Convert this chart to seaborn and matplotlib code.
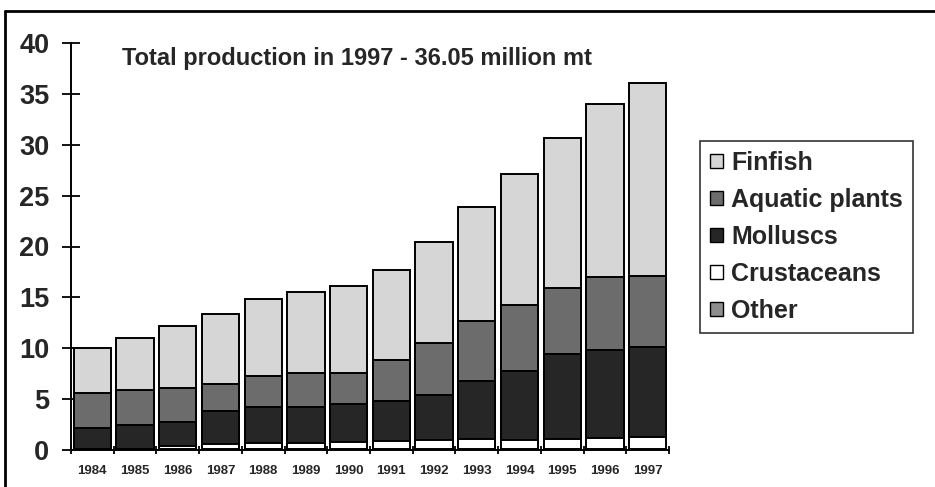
import numpy as np
import pandas as pd
import matplotlib
matplotlib.use("Agg")
import matplotlib.pyplot as plt
from matplotlib.patches import Patch
from matplotlib.lines import Line2D
import seaborn as sns

years = ["1984", "1985", "1986", "1987", "1988", "1989", "1990",
         "1991", "1992", "1993", "1994", "1995", "1996", "1997"]
other = [0.05, 0.05, 0.05, 0.05, 0.05, 0.05, 0.05, 0.05, 0.05, 0.05, 0.05, 0.05, 0.05, 0.05]
crustaceans = [0.05, 0.05, 0.35, 0.5, 0.65, 0.65, 0.75, 0.85, 0.9, 1.0, 0.9, 1.05, 1.15, 1.25]
molluscs = [2.1, 2.4, 2.4, 3.25, 3.55, 3.55, 3.7, 3.9, 4.45, 5.75, 6.8, 8.3, 8.65, 8.8]
aquatic_plants = [3.45, 3.4, 3.3, 2.7, 3.0, 3.3, 3.05, 4.05, 5.15, 5.9, 6.5, 6.5, 7.15, 7.0]
finfish = [4.4, 5.15, 6.05, 6.85, 7.55, 8.0, 8.6, 8.85, 9.9, 11.2, 12.9, 14.75, 17.0, 18.95]

series_names = ["Other", "Crustaceans", "Molluscs", "Aquatic plants", "Finfish"]
series_values = [other, crustaceans, molluscs, aquatic_plants, finfish]
colors = {"Other": "#8e8e8e", "Crustaceans": "#ffffff", "Molluscs": "#262626",
          "Aquatic plants": "#6c6c6c", "Finfish": "#d6d6d6"}

title = "Total production in 1997 - 36.05 million mt"
yticks = [0, 5, 10, 15, 20, 25, 30, 35, 40]

sns.set_style("white")
plt.rcParams['font.family'] = ['Liberation Sans', 'DejaVu Sans']
plt.rcParams['font.weight'] = 'bold'

fig = plt.figure(figsize=(9.35, 4.87), dpi=100)
ax = fig.add_axes([71/935, 1-450/487, (669-71)/935, (450-43)/487])

cum = np.cumsum(np.array(series_values), axis=0)
df = pd.DataFrame({"year": years})
# draw from top-most cumulative downward
for i in range(len(series_names) - 1, -1, -1):
    name = series_names[i]
    df["val"] = cum[i]
    sns.barplot(data=df, x="year", y="val", color=colors[name], saturation=1,
                edgecolor="black", linewidth=1.4, width=0.87, errorbar=None, ax=ax)

ax.set_ylim(0, 40)
ax.set_xlim(-0.5, 13.5)
ax.set_yticks(yticks)
ax.set_yticklabels([str(v) for v in yticks], fontsize=19.5, fontweight='bold')
ax.set_xticks(range(len(years)))
ax.set_xticklabels(years, fontsize=9.5, fontweight='bold')
ax.set_xticks(np.arange(-0.5, 14, 1), minor=True)
ax.tick_params(axis='x', which='major', bottom=False, length=0, pad=11)
ax.tick_params(axis='x', which='minor', bottom=True, direction='inout', length=6, width=1.3, color='black')
ax.tick_params(axis='y', which='major', left=True, direction='inout', length=13, width=1.3, color='black', pad=9)
ax.set_xlabel("")
ax.set_ylabel("")
for s in ["top", "right"]:
    ax.spines[s].set_visible(False)
for s in ["left", "bottom"]:
    ax.spines[s].set_color("black")
    ax.spines[s].set_linewidth(1.4)

fig.text(122/935, 1-59/487, title, fontsize=17, fontweight='bold', va='center', ha='left')

handles = [Patch(facecolor=colors[n], edgecolor='black', linewidth=1.0) for n in series_names[::-1]]
leg = fig.legend(handles, series_names[::-1], loc='upper left',
                 bbox_to_anchor=(700/935, 1-141/487), bbox_transform=fig.transFigure,
                 borderaxespad=0, prop={'weight': 'bold', 'size': 18},
                 handlelength=0.5, handleheight=0.5, handletextpad=0.35,
                 labelspacing=0.52, borderpad=0.4, fancybox=False, frameon=True)
leg.get_frame().set_edgecolor('black')
leg.get_frame().set_linewidth(1.2)

# outer border of the figure
fig.add_artist(Line2D([5/935, 5/935], [0, 1-11/487], transform=fig.transFigure, color='black', lw=2))
fig.add_artist(Line2D([5/935, 1], [1-11/487, 1-11/487], transform=fig.transFigure, color='black', lw=2))

fig.savefig("out.png", dpi=100)
